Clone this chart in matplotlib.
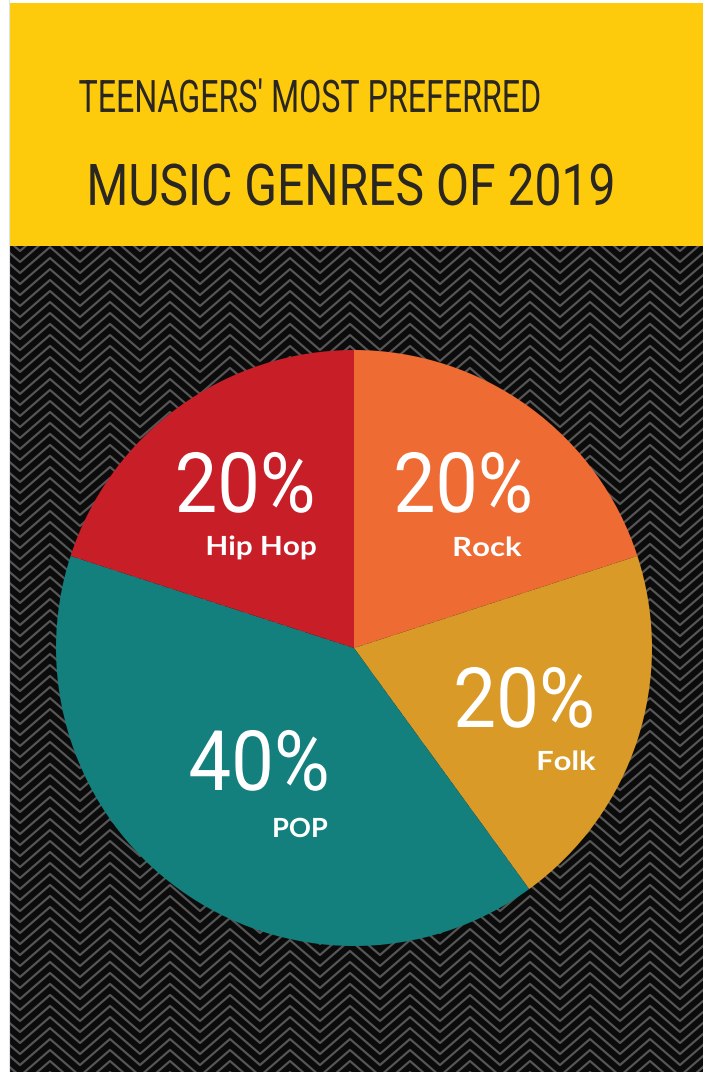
import matplotlib

matplotlib.use("Agg")

import matplotlib.pyplot as plt
import numpy as np
from matplotlib.collections import LineCollection
from matplotlib.patches import Rectangle
from matplotlib.patheffects import AbstractPathEffect
from matplotlib.transforms import Affine2D


GENRES = ["Rock", "Folk", "POP", "Hip Hop"]
SHARES = [20, 20, 40, 20]
COLORS = ["#EE6C34", "#D99A27", "#13807E", "#C81E28"]
TITLE_TOP = "TEENAGERS' MOST PREFERRED"
TITLE_MAIN = "MUSIC GENRES OF 2019"

W, H = 715, 1072
YELLOW = "#FDCB0C"
INK = "#2A2622"
BG = "#0B0B0B"
STRIPE = "#565656"

# label layout in pixels from the top-left: (centre x, baseline y, fitted width)
PCT_LAYOUT = {
    "Rock": (463, 512, 133),
    "Folk": (524, 727, 135),
    "POP": (259, 790, 136),
    "Hip Hop": (245, 512, 134),
}
NAME_LAYOUT = {
    "Rock": (487, 556, 67),
    "Folk": (566, 770, 57),
    "POP": (300, 837, 53),
    "Hip Hop": (261, 555, 108),
}


class FitBox(AbstractPathEffect):
    """Rescale a text path to a fixed pixel width (and optionally cap height),
    keeping its horizontal centre and its baseline in place."""

    def __init__(self, width_px, height_px=None):
        super().__init__()
        self._width = width_px
        self._height = height_px

    def draw_path(self, renderer, gc, tpath, affine, rgbFace=None):
        x0, y0, x1, y1 = tpath.get_extents(affine).extents
        cx = 0.5 * (x0 + x1)
        sx = self._width / max(x1 - x0, 1e-6)
        sy = 1.0 if self._height is None else self._height / max(y1 - y0, 1e-6)
        fit = Affine2D().translate(-cx, -y0).scale(sx, sy).translate(cx, y0)
        renderer.draw_path(gc, tpath, affine + fit, rgbFace)


def up(y_img):
    return H - y_img


def chevron_segments(x0, x1, y0, y1, period=60.0, rise=26.0, gap=11.0, phase=50.0):
    xs = np.arange(phase - 2 * period, x1 + period, period / 2)
    bumps = np.where(np.arange(xs.size) % 2 == 0, rise, 0.0)
    segments = []
    for base in np.arange(y0 - rise - gap, y1 + gap, gap):
        segments.append(np.column_stack([xs, base + bumps]))
    return segments


fig = plt.figure(figsize=(W / 100, H / 100), dpi=100, facecolor="white")
ax = fig.add_axes([0, 0, 1, 1])

# yellow header and the chevron-patterned black panel under the pie
ax.add_patch(Rectangle((10, up(246)), 693, 243, facecolor=YELLOW,
                       linewidth=0, zorder=0.1))
panel = Rectangle((10, 0), 693, up(246), facecolor=BG, linewidth=0, zorder=0.1)
ax.add_patch(panel)
ax.plot([9, 9], [0, H], color="#DDE3EA", linewidth=0.8, zorder=0.1)

stripes = LineCollection(
    chevron_segments(10, 703, 0, up(246)),
    colors=STRIPE,
    linewidths=1.6,
    zorder=0.5,
)
ax.add_collection(stripes)
stripes.set_clip_path(panel)

ax.pie(
    SHARES,
    colors=COLORS,
    startangle=90,
    counterclock=False,
    center=(354, up(648)),
    radius=298,
    wedgeprops={"linewidth": 0, "zorder": 2},
)

for genre, share in zip(GENRES, SHARES):
    x, y, width = PCT_LAYOUT[genre]
    ax.text(
        x, up(y), f"{share}%",
        ha="center", va="baseline", color="white",
        family=["Roboto", "DejaVu Sans"], fontsize=60,
        path_effects=[FitBox(width)], zorder=5,
    )
    x, y, width = NAME_LAYOUT[genre]
    ax.text(
        x, up(y), genre,
        ha="center", va="baseline", color="white",
        family=["Lato", "DejaVu Sans"], fontweight="bold", fontsize=19,
        path_effects=[FitBox(width)], zorder=5,
    )

ax.text(
    310, up(112), TITLE_TOP,
    ha="center", va="baseline", color=INK,
    family=["Roboto", "DejaVu Sans"], fontsize=27,
    path_effects=[FitBox(460, 34)],
)
ax.text(
    351, up(205), TITLE_MAIN,
    ha="center", va="baseline", color=INK,
    family=["Roboto", "DejaVu Sans"], fontsize=36,
    path_effects=[FitBox(522, 42)],
)

ax.set_xlim(0, W)
ax.set_ylim(0, H)
ax.set_axis_off()

fig.savefig("out.png", dpi=100)
plt.close(fig)
